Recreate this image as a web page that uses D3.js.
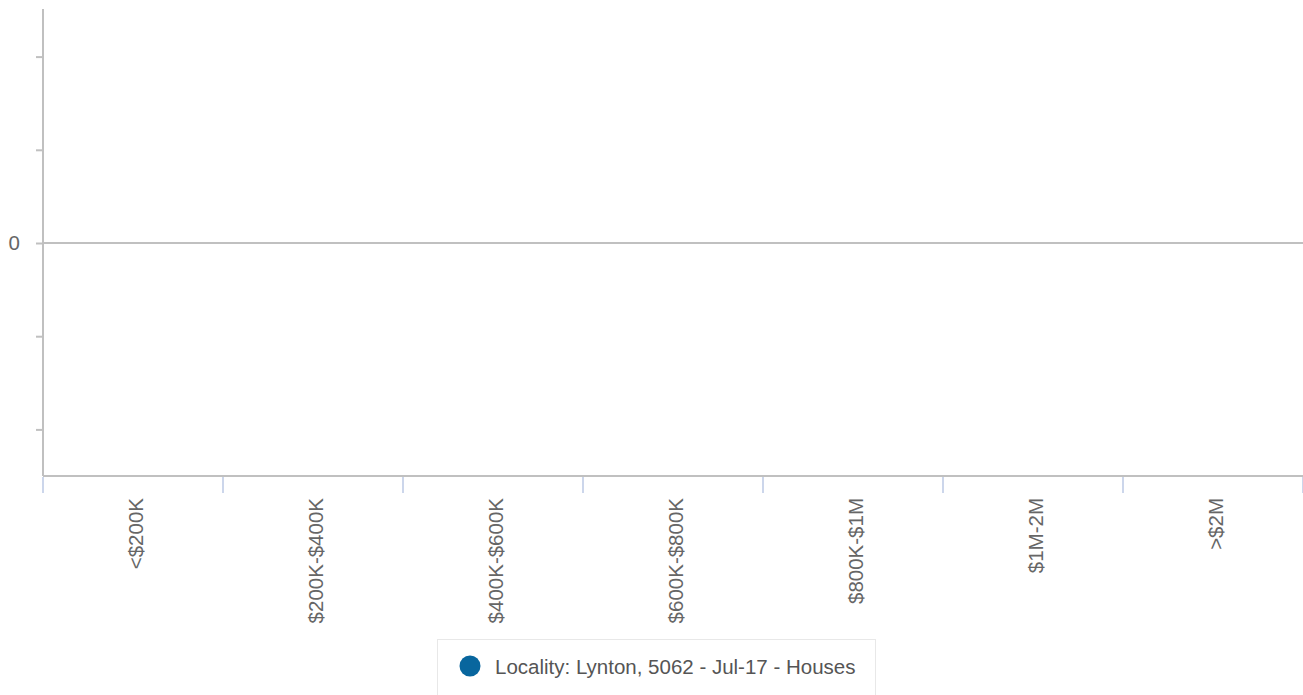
<!DOCTYPE html>
<html>
<head>
<meta charset="utf-8">
<script src="https://cdn.jsdelivr.net/npm/d3@7"></script>
<style>
  html, body { margin: 0; padding: 0; background: #fff; }
  svg { display: block; font-family: "Liberation Sans", Arial, sans-serif; }
</style>
</head>
<body>
<svg id="chart" width="1303" height="695"></svg>
<script>
const categories = ["<$200K", "$200K-$400K", "$400K-$600K", "$600K-$800K", "$800K-$1M", "$1M-2M", ">$2M"];
const seriesName = "Locality: Lynton, 5062 - Jul-17 - Houses";
const seriesValues = [null, null, null, null, null, null, null];
const yTicks = [-2, -1, 0, 1, 2];
const yTickLabels = ["", "", "0", "", ""];
const seriesColor = "#08669e";

const W = 1303, H = 695;
const plot = { left: 43, right: 1303, top: 10, bottom: 476 };

const svg = d3.select("#chart");

const x = d3.scaleBand().domain(categories).range([plot.left, plot.right]).padding(0);
const y = d3.scaleLinear().domain([-2.5, 2.5]).range([plot.bottom, plot.top]);

// zero line
svg.append("line")
  .attr("x1", plot.left).attr("x2", plot.right)
  .attr("y1", y(0)).attr("y2", y(0))
  .attr("stroke", "#c0c0c0").attr("stroke-width", 2);

// y axis
const yAxis = d3.axisLeft(y).tickValues(yTicks)
  .tickFormat((d, i) => yTickLabels[i]).tickSize(7).tickPadding(16);
const gy = svg.append("g").attr("transform", `translate(${plot.left},0)`).call(yAxis);
gy.select(".domain").remove();
gy.selectAll(".tick line").attr("stroke", "#c0c0c0").attr("stroke-width", 2);
gy.selectAll(".tick text").attr("fill", "#666").style("font-size", "20.5px")
  .style("font-family", '"Liberation Sans", Arial, sans-serif');
svg.append("line")
  .attr("x1", plot.left).attr("x2", plot.left)
  .attr("y1", plot.top - 1).attr("y2", plot.bottom)
  .attr("stroke", "#c0c0c0").attr("stroke-width", 2);

// x axis line
svg.append("line")
  .attr("x1", plot.left).attr("x2", plot.right)
  .attr("y1", plot.bottom).attr("y2", plot.bottom)
  .attr("stroke", "#c0c0c0").attr("stroke-width", 2);

// x ticks at band boundaries
const boundaries = categories.map(c => x(c)).concat([x(categories[categories.length - 1]) + x.bandwidth()]);
svg.append("g").selectAll("line").data(boundaries).join("line")
  .attr("x1", d => d).attr("x2", d => d)
  .attr("y1", plot.bottom + 1).attr("y2", plot.bottom + 17)
  .attr("stroke", "#ccd6eb").attr("stroke-width", 2);

// x labels rotated
svg.append("g").selectAll("text").data(categories).join("text")
  .attr("transform", d => `translate(${x(d) + x.bandwidth() / 2 + 10},${plot.bottom + 22}) rotate(-90)`)
  .attr("text-anchor", "end")
  .attr("fill", "#666")
  .style("font-size", "20.5px")
  .text(d => d);

// series marks (none present in data)
svg.append("g").selectAll("circle")
  .data(categories.map((c, i) => ({ c, v: seriesValues[i] })).filter(d => d.v != null))
  .join("circle")
  .attr("cx", d => x(d.c) + x.bandwidth() / 2)
  .attr("cy", d => y(d.v))
  .attr("r", 5).attr("fill", seriesColor);

// legend
const lg = svg.append("g");
lg.append("rect")
  .attr("x", 437.5).attr("y", 639.5).attr("width", 438).attr("height", 70)
  .attr("fill", "#fff").attr("stroke", "#e8e8e8").attr("stroke-width", 1);
lg.append("circle").attr("cx", 470).attr("cy", 666).attr("r", 10.5).attr("fill", seriesColor);
lg.append("text").attr("x", 495).attr("y", 674)
  .attr("fill", "#555").style("font-size", "20.5px").text(seriesName);
</script>
</body>
</html>
